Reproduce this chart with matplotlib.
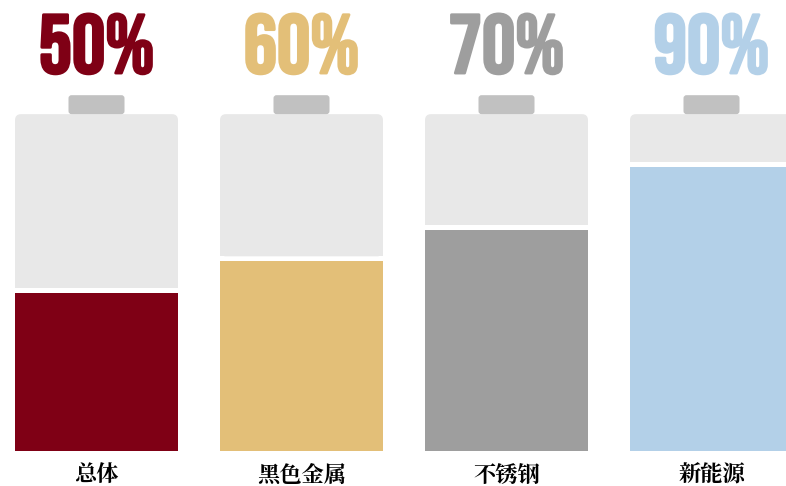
import matplotlib
matplotlib.use("Agg")
import matplotlib.pyplot as plt
import matplotlib.patheffects as pe
from matplotlib.patches import FancyBboxPatch

categories = ["总体", "黑色金属", "不锈钢", "新能源"]
values = [50, 60, 70, 90]
pct_labels = ["50%", "60%", "70%", "90%"]
colors = ["#7F0015", "#E3BF78", "#9E9E9E", "#B3D0E8"]

BG = "#E8E8E8"
CAP = "#C1C1C1"
TOP = 106.6
GAP = 1.6
WIDTH = 0.795

fig = plt.figure(figsize=(7.86, 4.86), dpi=100)
ax = fig.add_axes([0, 0, 1, 1])
ax.set_xlim(-96.5 / 205, (786 - 96.5) / 205)
ax.set_ylim(-35 / 3.16, (486 - 35) / 3.16)
ax.axis("off")

xs = list(range(len(values)))
rx = 6 / 205
ry = 6 / 3.16
for x, v, c, lab, cat in zip(xs, values, colors, pct_labels, categories):
    bot = v + GAP
    ax.add_patch(FancyBboxPatch((x - WIDTH / 2, bot), WIDTH, TOP - bot,
                                boxstyle=f"round,pad=0,rounding_size={rx}",
                                mutation_aspect=ry / rx, fc=BG, ec="none"))
    ax.bar(x, 10, bottom=bot, width=WIDTH, color=BG, linewidth=0)
    cw = 56 / 205
    ax.add_patch(FancyBboxPatch((x - cw / 2, TOP), cw, 6.0,
                                boxstyle=f"round,pad=0,rounding_size={3/205}",
                                mutation_aspect=(3 / 3.16) / (3 / 205), fc=CAP, ec="none"))
    ax.bar(x, v, width=WIDTH, color=c, linewidth=0)
    t = ax.text(x, 119.6, lab, ha="center", va="baseline", color=c,
                fontsize=60, family=["Bebas Neue", "Anton", "DejaVu Sans"])
    t.set_path_effects([pe.withStroke(linewidth=2.0, foreground=c)])
    ax.text(x, -7.8, cat, ha="center", va="center", color="black",
            fontsize=16, fontweight="bold",
            family=["Noto Serif CJK JP", "Noto Sans CJK SC", "DejaVu Sans"])

fig.savefig("out.png", dpi=100)
